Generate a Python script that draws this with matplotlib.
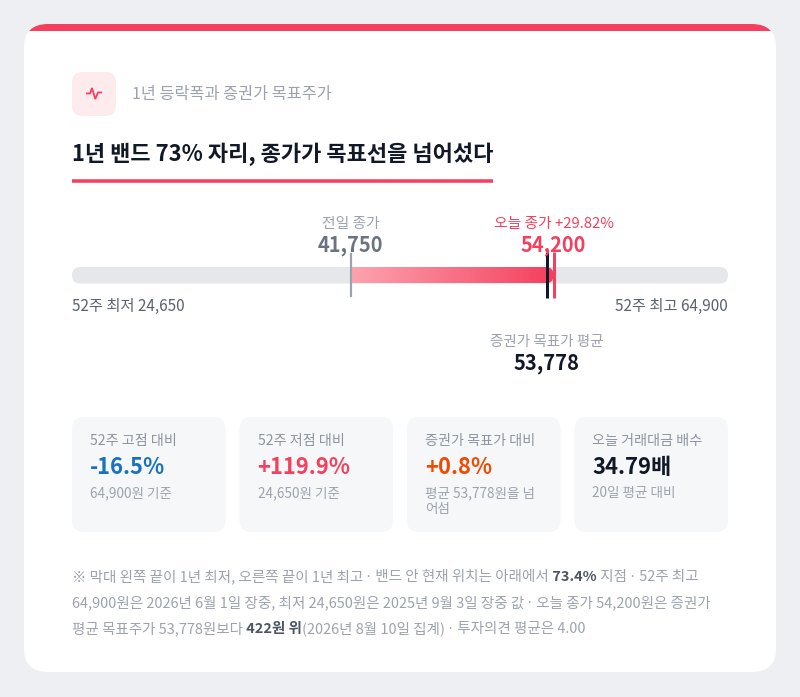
import re
import numpy as np
import matplotlib
matplotlib.use('Agg')
import matplotlib.pyplot as plt
import matplotlib.transforms as mtransforms
from matplotlib.patches import FancyBboxPatch, Rectangle
from matplotlib.colors import LinearSegmentedColormap

plt.rcParams['font.family'] = ['Noto Sans CJK KR', 'DejaVu Sans']

# ---- data ----
low_52w = 24650
high_52w = 64900
prev_close = 41750
today_close = 54200
target_avg = 53778
today_change = '+29.82%'

card_labels = ['52주 고점 대비', '52주 저점 대비', '증권가 목표가 대비', '오늘 거래대금 배수']
card_values = ['-16.5%', '+119.9%', '+0.8%', '34.79배']
card_subs = [['64,900원 기준'], ['24,650원 기준'], ['평균 53,778원을 넘', '어섬'], ['20일 평균 대비']]
card_colors = ['#1971C2', '#F43F5E', '#F04A00', '#111827']

subtitle = '1년 등락폭과 증권가 목표주가'
title = '1년 밴드 73% 자리, 종가가 목표선을 넘어섰다'
note_lines = [
    [('※ 막대 왼쪽 끝이 1년 최저, 오른쪽 끝이 1년 최고 · 밴드 안 현재 위치는 아래에서', False),
     (' 73.4%', True), (' 지점 · 52주 최고', False)],
    [('64,900원은 2026년 6월 1일 장중, 최저 24,650원은 2025년 9월 3일 장중 값 · 오늘 종가 54,200원은 증권가', False)],
    [('평균 목표주가 53,778원보다', False), (' 422원 위', True),
     ('(2026년 8월 10일 집계) · 투자의견 평균은 4.00', False)],
]

RED = '#F43F5E'
GRAY = '#9CA3AF'
W, H = 800, 697


def pt(px):
    # pixel size -> points at dpi 100
    return px * 0.72


fig = plt.figure(figsize=(W / 100, H / 100), dpi=100, facecolor='#EDEFF3')
ax = fig.add_axes([0, 0, 1, 1])
ax.set_xlim(0, W)
ax.set_ylim(H, 0)
ax.axis('off')

# card + top stripe
card = FancyBboxPatch((24, 24), 752, 648, boxstyle='round,pad=0,rounding_size=24',
                      fc='white', ec='none')
ax.add_patch(card)
stripe = Rectangle((24, 24), 752, 7, fc=RED, ec='none')
ax.add_patch(stripe)
stripe.set_clip_path(card)

# icon
ax.add_patch(FancyBboxPatch((72, 72), 44, 44, boxstyle='round,pad=0,rounding_size=10',
                            fc='#FDEBEE', ec='none'))
ax.plot([86, 90, 92, 95.3, 98, 102], [93.5, 93.5, 88, 99, 92.5, 92.5],
        color=RED, lw=pt(1.8), solid_joinstyle='miter', solid_capstyle='butt')

ax.text(132, 94, subtitle, ha='left', va='center', fontsize=pt(16.3), color=GRAY)
t_title = ax.text(72, 154, title, ha='left', va='center', fontsize=pt(22),
                  color='#111827', weight='bold')

renderer = fig.canvas.get_renderer()
tb = t_title.get_window_extent(renderer)
ax.plot([72, tb.x1], [181, 181], color=RED, lw=pt(3.5), solid_capstyle='butt')

# ---- band ----
bx0, bx1 = 72, 728
ax_b = fig.add_axes([bx0 / W, 1 - 380 / H, (bx1 - bx0) / W, 180 / H])
wpp = (high_52w - low_52w) / (bx1 - bx0)
r = 8.25
style = f'round,pad=0,rounding_size={r * wpp}'

ax_b.add_patch(FancyBboxPatch((low_52w, 267), high_52w - low_52w, 16.5, boxstyle=style,
                              mutation_aspect=1 / wpp, fc='#E5E7EB', ec='none'))

cmap = LinearSegmentedColormap.from_list('band', ['#FDA4AF', RED])
grad = np.linspace(0, 1, 256).reshape(1, -1)
im = ax_b.imshow(grad, cmap=cmap, extent=(prev_close, today_close, 283.5, 267),
                 aspect='auto', interpolation='bicubic', zorder=2)
clip = FancyBboxPatch((prev_close - r * wpp, 267), today_close - prev_close + r * wpp, 16.5,
                      boxstyle=style, mutation_aspect=1 / wpp, transform=ax_b.transData,
                      fc='none', ec='none')
im.set_clip_path(clip)

ax_b.vlines(prev_close, 253, 297, colors='#9CA3AF', lw=pt(2.2), zorder=3)
ax_b.vlines(target_avg, 252, 298, colors='#111827', lw=pt(3), zorder=3)
ax_b.vlines(today_close, 252, 298, colors=RED, lw=pt(3), zorder=3)

ax_b.text(prev_close, 224, '전일 종가', ha='center', va='center', fontsize=pt(14.8), color=GRAY)
ax_b.text(prev_close, 245, f'{prev_close:,}', ha='center', va='center', fontsize=pt(20),
          weight='bold', color='#6B7280')
ax_b.text(today_close, 224, f'오늘 종가 {today_change}', ha='center', va='center',
          fontsize=pt(14.8), color=RED)
ax_b.text(today_close, 245, f'{today_close:,}', ha='center', va='center', fontsize=pt(20),
          weight='bold', color=RED)
ax_b.text(low_52w, 306, f'52주 최저 {low_52w:,}', ha='left', va='center', fontsize=pt(15.3),
          color='#5B6270')
ax_b.text(high_52w, 306, f'52주 최고 {high_52w:,}', ha='right', va='center', fontsize=pt(15.3),
          color='#5B6270')
ax_b.text(target_avg, 342, '증권가 목표가 평균', ha='center', va='center', fontsize=pt(14.6),
          color=GRAY)
ax_b.text(target_avg, 363, f'{target_avg:,}', ha='center', va='center', fontsize=pt(20),
          weight='bold', color='#111827')

ax_b.set_xlim(low_52w, high_52w)
ax_b.set_ylim(380, 200)
ax_b.axis('off')

# ---- stat cards ----
gap = 14
cw = (656 - 3 * gap) / 4
for i in range(len(card_labels)):
    x0 = 72 + i * (cw + gap)
    ax.add_patch(FancyBboxPatch((x0, 417), cw, 115, boxstyle='round,pad=0,rounding_size=12',
                                fc='#F6F7F9', ec='none'))
    ax.text(x0 + 18, 441, card_labels[i], ha='left', va='center', fontsize=pt(14.1),
            color='#8E959F')
    ax.text(x0 + 18, 468, card_values[i], ha='left', va='center', fontsize=pt(22),
            weight='bold', color=card_colors[i])
    for j, line in enumerate(card_subs[i]):
        ax.text(x0 + 18, 493 + j * 16, line, ha='left', va='center', fontsize=pt(13.6),
                color=GRAY)

# ---- footnote ----
# pieces are chained left to right; spaces are kept at the start of a piece
# because trailing spaces do not count in the text extent
for k, parts in enumerate(note_lines):
    trans = ax.transData
    y = 581 + k * 26
    for s, bold in parts:
        for piece in re.split('( ·)', s):
            if not piece:
                continue
            is_dot = piece == ' ·'
            fam = ['Noto Sans', 'DejaVu Sans'] if is_dot else None
            t = ax.text(72, y, piece, transform=trans, ha='left', va='baseline',
                        fontsize=pt(14.5), family=fam,
                        weight='bold' if bold else 'normal',
                        color='#4B5563' if bold else GRAY)
            w = t.get_window_extent(renderer).width
            if is_dot:
                w += 1.5  # right side bearing of the dot
            trans = mtransforms.offset_copy(t.get_transform(), fig=fig, x=w, units='dots')

fig.savefig('out.png', dpi=100, facecolor=fig.get_facecolor())
